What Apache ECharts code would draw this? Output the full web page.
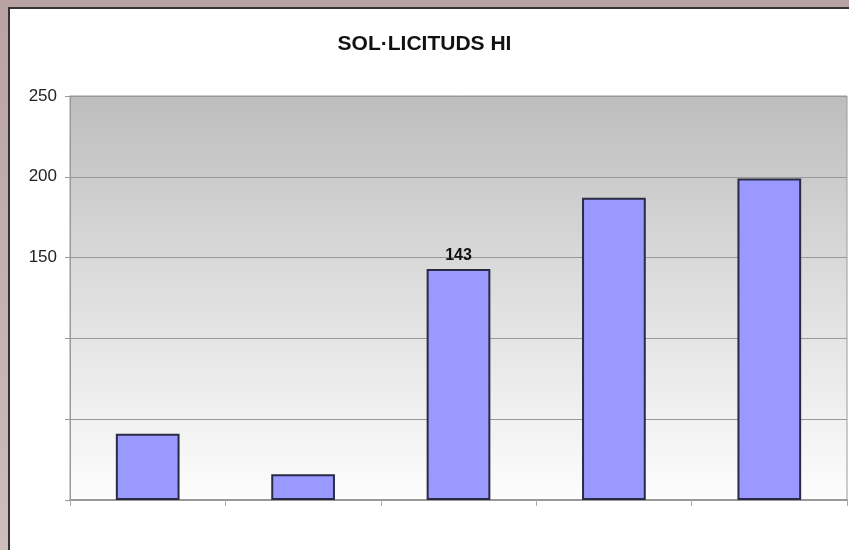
<!DOCTYPE html>
<html>
<head>
<meta charset="utf-8">
<script src="https://cdn.jsdelivr.net/npm/echarts@6/dist/echarts.min.js"></script>
<style>
  html, body { margin: 0; padding: 0; }
  body { width: 849px; height: 550px; background: linear-gradient(#b9a2a2, #cdbdbd); position: relative; overflow: hidden; }
  #panel { position: absolute; left: 8px; top: 7px; right: 0; bottom: 0; background: #fff; border-left: 2px solid #333; border-top: 2px solid #333; }
  #grafico { position: absolute; left: 0; top: 0; width: 849px; height: 550px; }
</style>
</head>
<body>
<div id="panel"></div>
<div id="grafico"></div>
<script>
const categorias = ['1', '2', '3', '4', '5'];
const solicituds = [41, 16, 143, 187, 199];
const etiquetaVisible = [false, false, true, false, false];
const marcasY = [150, 200, 250];

function dibujarSolicituds() {
    let graf = echarts.init(document.getElementById('grafico'));

    let datos = solicituds.map((v, i) => ({
        value: v,
        label: { show: etiquetaVisible[i] }
    }));

    let option = {
        animation: false,
        title: {
            text: 'SOL·LICITUDS HI',
            left: 'center',
            top: 29,
            textStyle: {
                fontFamily: 'Liberation Sans, Arial, sans-serif',
                fontSize: 21,
                fontWeight: 'bold',
                color: '#111'
            }
        },
        grid: {
            left: 70,
            right: 2,
            top: 96,
            bottom: 50,
            show: true,
            borderColor: '#9a9a9a',
            borderWidth: 1,
            backgroundColor: new echarts.graphic.LinearGradient(0, 0, 0, 1, [
                { offset: 0, color: '#bdbdbd' },
                { offset: 0.45, color: '#dcdcdc' },
                { offset: 1, color: '#fdfdfd' }
            ])
        },
        xAxis: {
            type: 'category',
            data: categorias,
            axisLine: { lineStyle: { color: '#999', width: 2 } },
            axisTick: { show: true, length: 6, lineStyle: { color: '#aaa' } },
            axisLabel: { show: false }
        },
        yAxis: {
            type: 'value',
            min: 0,
            max: 250,
            interval: 50,
            axisLine: { show: true, lineStyle: { color: '#999', width: 1 } },
            axisTick: { show: true, length: 5, lineStyle: { color: '#999' } },
            axisLabel: {
                margin: 13,
                fontFamily: 'Liberation Sans, Arial, sans-serif',
                fontSize: 17,
                color: '#222',
                formatter: v => marcasY.includes(v) ? String(v) : ''
            },
            splitLine: { lineStyle: { color: '#999', width: 1 } }
        },
        series: [
            {
                name: 'Sol·licituds',
                type: 'bar',
                data: datos,
                barWidth: '41%',
                itemStyle: {
                    color: '#9999ff',
                    borderColor: '#2a2a44',
                    borderWidth: 2
                },
                label: {
                    position: 'top',
                    distance: 5,
                    fontFamily: 'Liberation Sans, Arial, sans-serif',
                    fontSize: 16,
                    fontWeight: 'bold',
                    color: '#111'
                }
            }
        ]
    };

    graf.setOption(option);
}

dibujarSolicituds();
</script>
</body>
</html>
